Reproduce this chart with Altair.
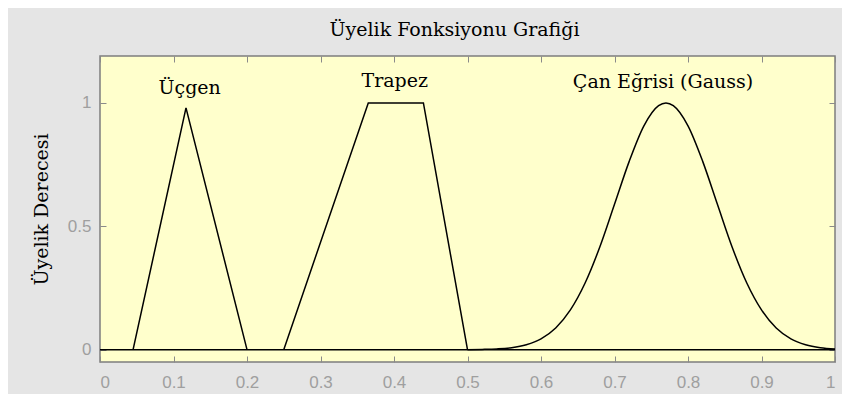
import altair as alt
import pandas as pd

# ---- data ----
tri_x = [0.045, 0.117, 0.200]
tri_y = [0.0, 0.98, 0.0]

trap_x = [0.250, 0.365, 0.440, 0.500]
trap_y = [0.0, 1.0, 1.0, 0.0]

base_x = [0.0, 1.0]
base_y = [0.0, 0.0]

gauss_x = [0.50, 0.52, 0.54, 0.56, 0.58, 0.60, 0.62, 0.64, 0.66, 0.68, 0.70,
           0.72, 0.74, 0.76, 0.77, 0.78, 0.80, 0.82, 0.84, 0.86, 0.88, 0.90,
           0.92, 0.94, 0.96, 0.98, 1.00]
gauss_y = [0.000, 0.001, 0.003, 0.008, 0.020, 0.044, 0.088, 0.161, 0.270, 0.416, 0.589,
           0.763, 0.907, 0.989, 1.000, 0.989, 0.907, 0.763, 0.589, 0.416, 0.270, 0.161,
           0.088, 0.044, 0.020, 0.008, 0.003]

label_text = ["Üçgen", "Trapez", "Çan Eğrisi (Gauss)"]
label_x = [0.122, 0.401, 0.766]
label_y = [1.06, 1.09, 1.085]

x_ticks = [0, 0.1, 0.2, 0.3, 0.4, 0.5, 0.6, 0.7, 0.8, 0.9, 1]
y_ticks = [0, 0.5, 1]

W, H = 735, 306
SERIF = "DejaVu Serif"
SANS = "Liberation Sans Narrow, Liberation Sans"
TICK_GRAY = "#8a8a8a"
LABEL_GRAY = "#9f9f9f"

rows = []
for name, xs, ys in [("Üçgen", tri_x, tri_y), ("Trapez", trap_x, trap_y), ("taban", base_x, base_y)]:
    for i, (a, b) in enumerate(zip(xs, ys)):
        rows.append({"seri": name, "i": i, "x": a, "y": b})
piece_df = pd.DataFrame(rows)
gauss_df = pd.DataFrame({"x": gauss_x, "y": gauss_y})
label_df = pd.DataFrame({"t": label_text, "x": label_x, "y": label_y})

xscale = alt.Scale(domain=[0, 1], nice=False, zero=False)
yscale = alt.Scale(domain=[-0.05, 1.19], nice=False, zero=False)

tick_only = dict(labels=False, ticks=True, tickSize=6, tickColor=TICK_GRAY,
                 tickWidth=1, domain=False, grid=False, title=None)

# Layer A: piecewise lines + label axes
pieces = alt.Chart(piece_df).mark_line(color="black", strokeWidth=1.5).encode(
    x=alt.X("x:Q", scale=xscale, axis=alt.Axis(
        orient="bottom", values=x_ticks, format="~g", ticks=False, tickSize=0,
        domain=False, grid=False, title=None, labelColor=LABEL_GRAY,
        labelFont=SANS, labelFontSize=17, labelPadding=12)),
    y=alt.Y("y:Q", scale=yscale, axis=alt.Axis(
        orient="left", values=y_ticks, format="~g", ticks=False, tickSize=0,
        domain=False, grid=False, title="Üyelik Derecesi", labelColor=LABEL_GRAY,
        labelFont=SANS, labelFontSize=17, labelPadding=9,
        titleFont=SERIF, titleFontSize=19, titleFontWeight="normal",
        titleColor="black", titlePadding=16)),
    detail="seri:N",
    order="i:Q",
)

# Layer B: gaussian curve + inward ticks (bottom & right)
gauss = alt.Chart(gauss_df).mark_line(color="black", strokeWidth=1.5,
                                      interpolate="monotone").encode(
    x=alt.X("x:Q", scale=xscale, axis=alt.Axis(orient="top", offset=-H,
                                              values=x_ticks, **tick_only)),
    y=alt.Y("y:Q", scale=yscale, axis=alt.Axis(orient="right", offset=-W,
                                              values=y_ticks, **tick_only)),
)

# Layer C: annotations + inward ticks (top & left)
labels = alt.Chart(label_df).mark_text(font=SERIF, fontSize=19, color="black",
                                       baseline="middle", align="center").encode(
    x=alt.X("x:Q", scale=xscale, axis=alt.Axis(orient="bottom", offset=-H,
                                              values=x_ticks, **tick_only)),
    y=alt.Y("y:Q", scale=yscale, axis=alt.Axis(orient="left", offset=-W,
                                              values=y_ticks, **tick_only)),
    text="t:N",
)

chart = alt.layer(pieces, gauss, labels).resolve_axis(
    x="independent", y="independent"
).properties(
    width=W, height=H,
    title=alt.TitleParams("Üyelik Fonksiyonu Grafiği", font=SERIF, fontSize=19,
                          fontWeight="normal", color="black", anchor="middle",
                          dx=-13, offset=16),
    background="#e5e5e5",
    padding={"left": 92, "top": 48, "right": 7, "bottom": 32},
    autosize=alt.AutoSizeParams(type="none"),
).configure_view(
    fill="#ffffcc", stroke="#7d7d7d", strokeWidth=1.5
)

chart.save("out.html", embed_options={"renderer": "svg", "actions": False})
